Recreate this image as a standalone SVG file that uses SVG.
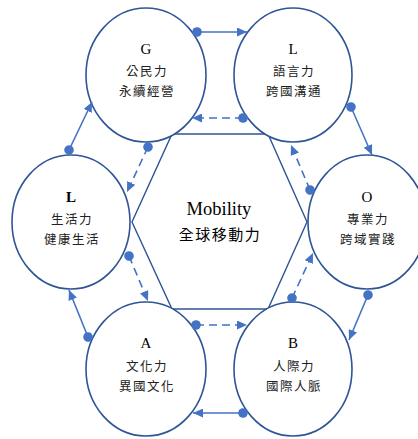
<svg xmlns="http://www.w3.org/2000/svg" width="418" height="439" viewBox="0 0 418 439">
<style>
.node{fill:#fff;stroke:#2F5597;stroke-width:1.6}
.hex{fill:none;stroke:#2F5597;stroke-width:1.4}
.lat{font-family:"Liberation Serif","Noto Sans CJK TC",serif;font-size:15px;fill:#000;text-anchor:middle}
.cjk{font-family:"Liberation Serif","Noto Sans CJK TC",serif;font-size:12.5px;letter-spacing:1.5px;fill:#222;text-anchor:middle}
.con{fill:none;stroke:#4472C4;stroke-width:1.6;marker-start:url(#dot);marker-end:url(#arr)}
.dash{stroke-dasharray:8 5}
</style>
<defs>
<marker id="arr" markerUnits="userSpaceOnUse" markerWidth="11" markerHeight="9" refX="10" refY="4.5" orient="auto">
<path d="M0,0 L10,4.5 L0,9 z" fill="#4472C4" stroke="none"/>
</marker>
<marker id="dot" markerUnits="userSpaceOnUse" markerWidth="12" markerHeight="12" refX="6" refY="6" orient="auto">
<circle cx="6" cy="6" r="4.8" fill="#4472C4" stroke="none"/>
</marker>
</defs>
<polygon class="hex" points="172,134 268,134 307,222 268,309 172,309 132,222"/>
<g id="center">
<text x="219" y="215" font-family="Liberation Serif, serif" font-size="18.5" text-anchor="middle">Mobility</text>
<text x="220" y="240" font-family="Noto Sans CJK TC, sans-serif" font-size="15" letter-spacing="1.5" text-anchor="middle">全球移動力</text>
</g>
<g id="node-G">
<ellipse class="node" cx="146" cy="75" rx="60" ry="67"/>
<text class="lat" x="146" y="54">G</text>
<text class="cjk" x="147" y="76">公民力</text>
<text class="cjk" x="147" y="96">永續經營</text>
</g>
<g id="node-L-top">
<ellipse class="node" cx="293" cy="75" rx="59" ry="67"/>
<text class="lat" x="293" y="54">L</text>
<text class="cjk" x="294" y="76">語言力</text>
<text class="cjk" x="294" y="96">跨國溝通</text>
</g>
<g id="node-L-left">
<ellipse class="node" cx="71" cy="222" rx="59" ry="67"/>
<text class="lat" x="71" y="202" font-weight="bold">L</text>
<text class="cjk" x="72" y="224">生活力</text>
<text class="cjk" x="72" y="244">健康生活</text>
</g>
<g id="node-O">
<ellipse class="node" cx="367" cy="222" rx="59" ry="67"/>
<text class="lat" x="367" y="202">O</text>
<text class="cjk" x="368" y="224">專業力</text>
<text class="cjk" x="368" y="244">跨域實踐</text>
</g>
<g id="node-A">
<ellipse class="node" cx="146" cy="369" rx="60" ry="67"/>
<text class="lat" x="146" y="348">A</text>
<text class="cjk" x="147" y="371">文化力</text>
<text class="cjk" x="147" y="391">異國文化</text>
</g>
<g id="node-B">
<ellipse class="node" cx="293" cy="369" rx="59" ry="67"/>
<text class="lat" x="293" y="348">B</text>
<text class="cjk" x="294" y="371">人際力</text>
<text class="cjk" x="294" y="391">國際人脈</text>
</g>
<g id="connectors">
<path class="con" d="M197,32 L247,32"/>
<path class="con dash" d="M243,118 L192,118"/>
<path class="con" d="M351,107 L372,155"/>
<path class="con dash" d="M310,190 L291,145"/>
<path class="con" d="M368,295 L349,340"/>
<path class="con dash" d="M292,298 L313,253"/>
<path class="con" d="M243,413 L193,413"/>
<path class="con dash" d="M196,325 L247,325"/>
<path class="con" d="M88,337 L69,290"/>
<path class="con dash" d="M129,256 L148,301"/>
<path class="con" d="M69,150 L92,102"/>
<path class="con dash" d="M148,147 L127,192"/>
</g>
</svg>
